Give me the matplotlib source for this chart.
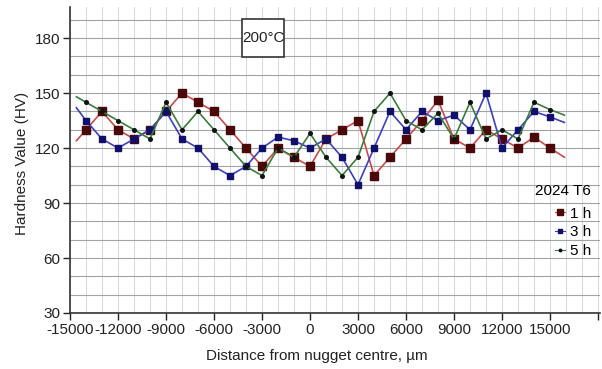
import numpy as np
import matplotlib as mpl
mpl.use('Agg')
import matplotlib.pyplot as plt
from matplotlib.patches import Rectangle
from matplotlib.ticker import MultipleLocator

plt.rcParams['font.family'] = ['Liberation Sans', 'DejaVu Sans']

# distance from nugget centre (um); first/last points are line ends without markers
dist = [-14600, -14000, -13000, -12000, -11000, -10000, -9000, -8000, -7000,
        -6000, -5000, -4000, -3000, -2000, -1000, 0, 1000, 2000, 3000, 4000,
        5000, 6000, 7000, 8000, 9000, 10000, 11000, 12000, 13000, 14000,
        15000, 15900]

hv_1h = [124, 130, 140, 130, 125, 130, 140, 150, 145, 140, 130, 120, 110, 120,
         115, 110, 125, 130, 135, 105, 115, 125, 135, 146, 125, 120, 130, 125,
         120, 126, 120, 115]
hv_3h = [142, 135, 125, 120, 125, 130, 140, 125, 120, 110, 105, 110, 120, 126,
         124, 120, 125, 115, 100, 120, 140, 130, 140, 135, 138, 130, 150, 120,
         130, 140, 137, 134]
hv_5h = [148, 145, 140, 135, 130, 125, 145, 130, 140, 130, 120, 110, 105, 120,
         115, 128, 115, 105, 115, 140, 150, 135, 130, 139, 125, 145, 125, 130,
         125, 145, 141, 138]

xticks = list(range(-15000, 18001, 3000))
xlabels = [str(t) for t in xticks[:-1]] + ['']

fig = plt.figure(figsize=(6.02, 3.69), dpi=100)
ax = fig.add_axes([0.1163, 0.1518, 0.8804, 0.8292])

mk = slice(1, -1)
ax.plot(dist, hv_1h, '-', color='#cc4a4a', lw=1.2, marker='s', ms=5.2,
        mfc='#4a0808', mec='#4a0808', markevery=mk, label='1 h', zorder=3)
ax.plot(dist, hv_3h, '-', color='#3e3ec4', lw=1.2, marker='s', ms=3.8,
        mfc='#10106a', mec='#10106a', markevery=mk, label='3 h', zorder=4)
ax.plot(dist, hv_5h, '-', color='#3a7d3a', lw=1.2, marker='o', ms=2.6,
        mfc='#111111', mec='#111111', markevery=mk, label='5 h', zorder=5)

ax.set_xlim(-15000, 18125)
ax.set_ylim(30, 197)
ax.set_xticks(xticks)
ax.set_xticklabels(xlabels)
ax.set_yticks([30, 60, 90, 120, 150, 180])
ax.xaxis.set_minor_locator(MultipleLocator(1000))
ax.yaxis.set_minor_locator(MultipleLocator(10))
ax.grid(which='both', axis='y', color='#a3a3a3', lw=0.8)
ax.grid(which='both', axis='x', color='#d5dbe6', lw=0.8)
ax.set_axisbelow(True)
ax.tick_params(which='major', direction='out', length=5, width=1,
               labelsize=11, colors='#222222', pad=2)
ax.tick_params(which='minor', length=0)
for s in ['top', 'right']:
    ax.spines[s].set_visible(False)
for s in ['left', 'bottom']:
    ax.spines[s].set_color('#333333')
    ax.spines[s].set_linewidth(1.2)

ax.set_xlabel('Distance from nugget centre, µm', fontsize=11, color='#222222')
ax.xaxis.set_label_coords(0.466, -0.118)
ax.set_ylabel('Hardness Value (HV)', fontsize=11, color='#222222')
ax.yaxis.set_label_coords(-0.078, 0.49)

# temperature label box
bx0, bx1 = (242 - 70) / 530, (284 - 70) / 530
by0, by1 = (313 - 57) / 306, (313 - 19) / 306
ax.add_patch(Rectangle((bx0, by0), bx1 - bx0, by1 - by0, transform=ax.transAxes,
                       facecolor='white', edgecolor='#333333', lw=1.2, zorder=6))
ax.text((bx0 + bx1) / 2, (by0 + by1) / 2, '200°C', transform=ax.transAxes,
        ha='center', va='center', fontsize=11, color='#222222', zorder=7)

leg = ax.legend(title='2024 T6', loc='upper right', bbox_to_anchor=(0.995, 0.44),
                frameon=False, fontsize=11, title_fontsize=11, markerscale=0.7,
                handlelength=0.7, handletextpad=0.3, labelspacing=0.3,
                alignment='right', borderaxespad=0.0)
leg._legend_box.sep = 6
for h in leg.legend_handles:
    h.set_linewidth(0.8)

plt.savefig('out.png', dpi=100)
